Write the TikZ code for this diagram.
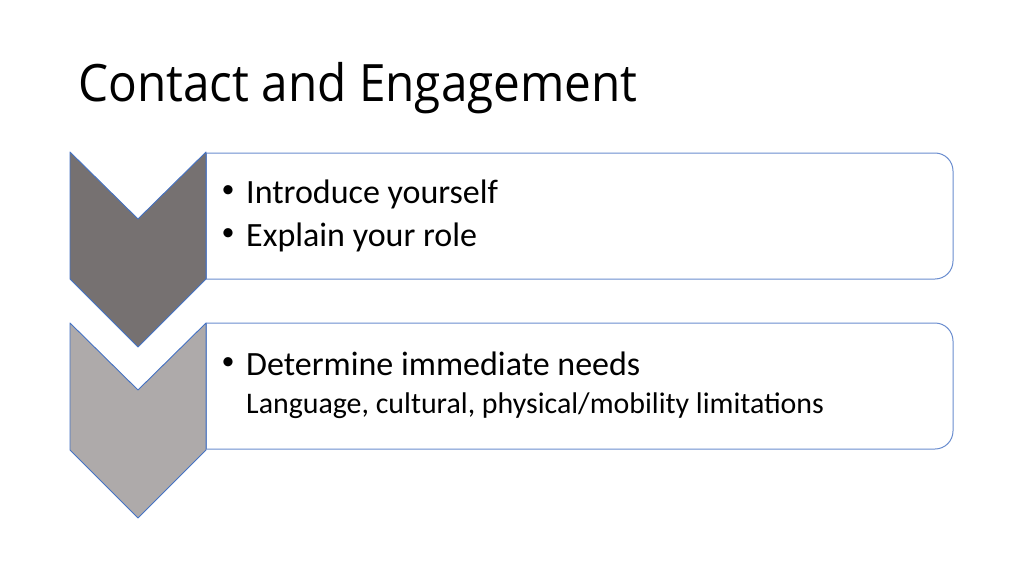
\documentclass[tikz,border=0pt]{standalone}
\usepackage{fontspec}
\setmainfont{Carlito}
\newfontfamily\titlefont{Open Sans}
\definecolor{chevdark}{HTML}{767171}
\definecolor{chevlight}{HTML}{AEAAAA}
\definecolor{accblue}{HTML}{4472C4}
\definecolor{boxblue}{HTML}{6A8DCF}
\begin{document}
\begin{tikzpicture}[x=1pt,y=-1pt,line join=round,
    chev/.style={draw=accblue,line width=0.9pt},
    listbox/.style={draw=boxblue,line width=1pt,fill=white},
    item/.style={anchor=base west,inner sep=0pt,font=\fontsize{34}{40}\selectfont},
    subitem/.style={anchor=base west,inner sep=0pt,font=\fontsize{29.9}{36}\selectfont},
    dot/.style={anchor=base,inner sep=0pt,font=\fontsize{26}{30}\selectfont}]
	\useasboundingbox (0,0) rectangle (1024,575);
	% chevron from top y: #1, fill #2
	\def\chevron(#1,#2){\filldraw[chev,fill=#2] (70,#1) -- (138,#1+67) -- (206,#1) -- (206,#1+127) -- (138,#1+195) -- (70,#1+127) -- cycle;}
	\node[anchor=base west,inner sep=0pt,font=\titlefont\fontsize{47.7}{56}\selectfont] (title) at (78,102) {\scalebox{1}[1.08]{Contact and Engagement}};
	\draw[listbox,rounded corners=18pt] (206,153) -- (953,153) -- (953,279) -- (206,279);
	\draw[listbox] (206,279) -- (206,153);
	\draw[listbox,rounded corners=18pt] (206,323) -- (953,323) -- (953,449) -- (206,449);
	\draw[listbox] (206,449) -- (206,323);
	\chevron(323,chevlight)
	\chevron(152,chevdark)
	\node[dot] (b1) at (228,197) {•};
	\node[item] (t1) at (246,203) {Introduce yourself};
	\node[dot] (b2) at (228,240) {•};
	\node[item] (t2) at (246,246) {Explain your role};
	\node[dot] (b3) at (228,369) {•};
	\node[item] (t3) at (246,375) {Determine immediate needs};
	\node[subitem] (t4) at (246,413) {Language, cultural, physical/mobility limitations};
\end{tikzpicture}
\end{document}
